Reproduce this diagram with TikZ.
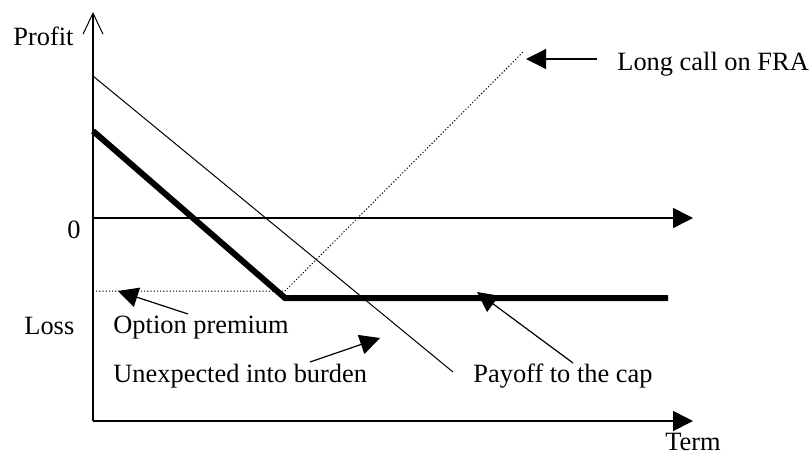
\documentclass[tikz,border=0pt]{standalone}
\usepackage{fontspec}
\setmainfont{Liberation Serif}
\usetikzlibrary{arrows.meta}
\begin{document}
\begin{tikzpicture}[x=0.5pt,y=-0.5pt,
        every node/.style={inner sep=0pt,font=\fontsize{13.2}{15}\selectfont},
        lbl/.style={anchor=base west},
        tip/.style={line width=0.6pt,-{Triangle[length=10pt,width=10pt]}},
        axis/.style={line width=0.8pt}]
    \useasboundingbox (0,0) rectangle (812,455);

    % axes
    \coordinate (O) at (93,421);
    \coordinate (ytop) at (93,12);
    \coordinate (xend) at (693,421);
    \coordinate (z0) at (93,218);
    \coordinate (zend) at (693,218);

    % payoff lines
    \coordinate (capA) at (93,76);
    \coordinate (capB) at (453,372);
    \coordinate (thA) at (93,131);
    \coordinate (kink) at (285,298);
    \coordinate (thB) at (668,298);
    \coordinate (prA) at (96,291);
    \coordinate (prB) at (285,291);
    \coordinate (callB) at (524,51);

    \node[lbl] (profit) at (13,45) {Profit};
    \node[lbl] (zero) at (67,238) {0};
    \node[lbl] (loss) at (24,334) {Loss};
    \node[lbl] (term) at (665,450) {Term};
    \node[lbl] (call) at (617,70) {Long call on FRA};
    \node[lbl] (prem) at (113,333) {Option premium};
    \node[lbl] (burden) at (113,382) {Unexpected into burden};
    \node[lbl] (payoff) at (473,382) {Payoff to the cap};

    \draw[axis,-{Straight Barb[length=10.5pt,width=10pt,line width=0.5pt]}] (O) -- (ytop);
    \draw[axis,-{Triangle[length=10pt,width=10pt]}] (O) -- (xend);
    \draw[axis,-{Triangle[length=10pt,width=10pt]}] (z0) -- (zend);

    \draw[line width=0.5pt] (capA) -- (capB);
    \draw[line width=3pt] (thA) -- (kink) -- (thB);
    \draw[line width=0.5pt,dash pattern=on 0.6pt off 1pt] (prA) -- (prB) -- (callB);

    % pointers from the labels
    \coordinate (callT) at (597,59);
    \coordinate (callP) at (526,59);
    \coordinate (premT) at (188,314);
    \coordinate (premP) at (118,291);
    \coordinate (burT) at (310,362);
    \coordinate (burP) at (380,338);
    \coordinate (payT) at (573,363);
    \coordinate (payP) at (477,292);
    \draw[tip] (callT) -- (callP);
    \draw[tip] (premT) -- (premP);
    \draw[tip] (burT) -- (burP);
    \draw[tip] (payT) -- (payP);
\end{tikzpicture}
\end{document}
